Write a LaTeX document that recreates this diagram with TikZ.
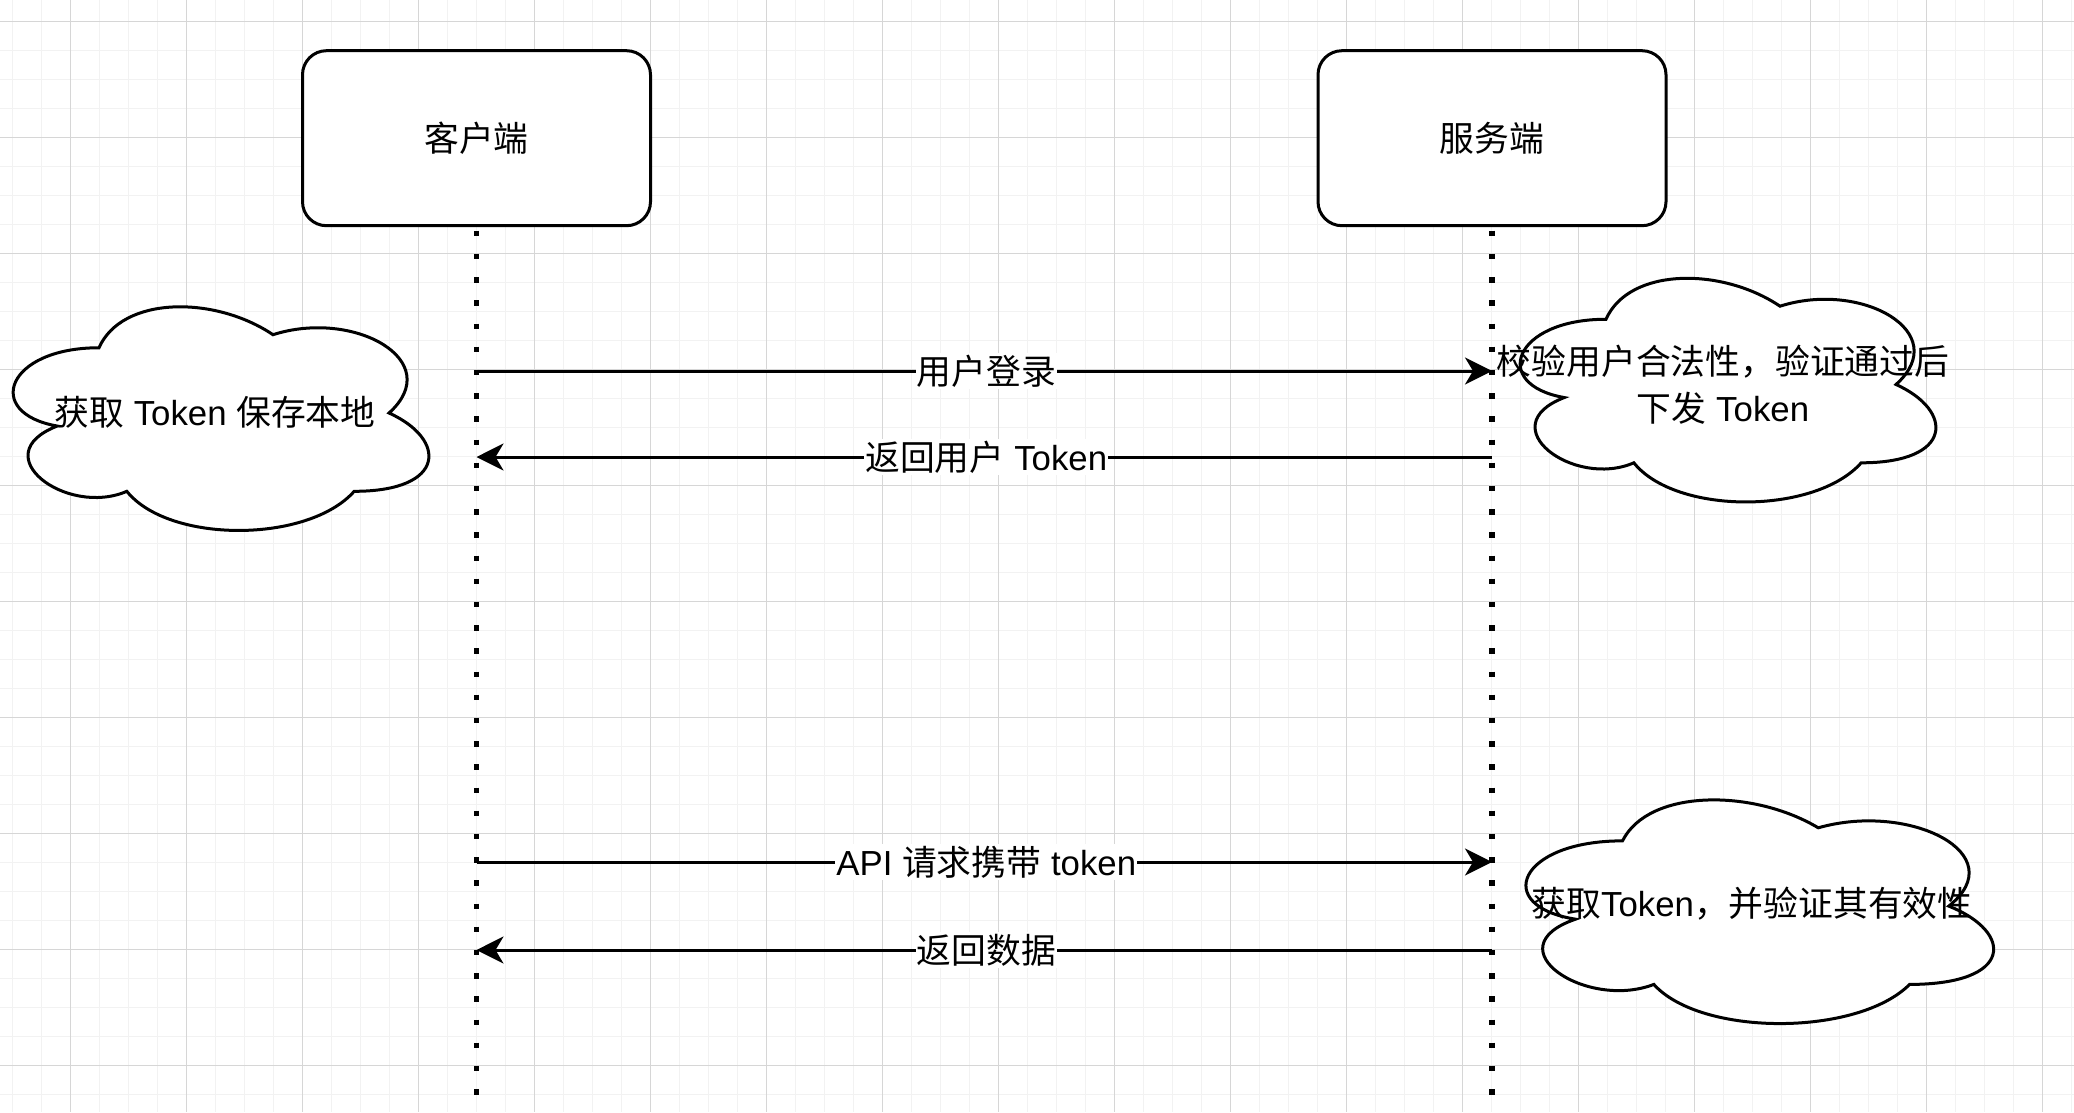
\documentclass[tikz,border=0pt]{standalone}
\usepackage{fontspec}
\setmainfont{Liberation Sans}
\newfontfamily\cjk{Noto Sans CJK SC}
\usetikzlibrary{arrows.meta}
\newcommand\dgfont{\fontsize{34.8}{46.7}\selectfont}
\newcommand\cloudat[4]{%
 \path[cloudbox] ({#1+0.25*#3},{#2+0.25*#4})
 .. controls ({#1+0.05*#3},{#2+0.25*#4}) and ({#1},{#2+0.5*#4}) .. ({#1+0.16*#3},{#2+0.55*#4})
 .. controls ({#1},{#2+0.66*#4}) and ({#1+0.18*#3},{#2+0.9*#4}) .. ({#1+0.31*#3},{#2+0.8*#4})
 .. controls ({#1+0.4*#3},{#2+#4}) and ({#1+0.7*#3},{#2+#4}) .. ({#1+0.8*#3},{#2+0.8*#4})
 .. controls ({#1+#3},{#2+0.8*#4}) and ({#1+#3},{#2+0.6*#4}) .. ({#1+0.875*#3},{#2+0.5*#4})
 .. controls ({#1+#3},{#2+0.3*#4}) and ({#1+0.8*#3},{#2+0.1*#4}) .. ({#1+0.625*#3},{#2+0.2*#4})
 .. controls ({#1+0.5*#3},{#2+0.05*#4}) and ({#1+0.3*#3},{#2+0.05*#4}) .. ({#1+0.25*#3},{#2+0.25*#4})
 -- cycle;}
\begin{document}
\begin{tikzpicture}[x=1pt,y=-1pt,
  minorgrid/.style={draw={rgb,255:red,242;green,242;blue,242}, line width=1pt},
  majorgrid/.style={draw={rgb,255:red,214;green,214;blue,214}, line width=1pt},
  actor/.style={draw=black, line width=3pt, rounded corners=24pt, fill=white,
    minimum width=348pt, minimum height=175pt, inner sep=0pt, font=\dgfont},
  lifeline/.style={draw=black, line width=5.5pt, dash pattern=on 5.5pt off 17.7pt},
  msg/.style={draw=black, line width=3pt, -{Stealth[length=27pt,width=27pt,inset=8pt]}},
  msglabel/.style={fill=white, inner xsep=1pt, inner ysep=2pt, font=\dgfont, xshift=2pt},
  cloudbox/.style={draw=black, line width=3pt, fill=white},
  cloudtext/.style={font=\dgfont, align=center, inner sep=0pt},
]
\useasboundingbox (0,0) rectangle (2074,1112);
\fill[white] (0,0) rectangle (2074,1112);
% grid
\foreach \x in {12.5,41.5,...,2074} \draw[minorgrid] (\x,0) -- (\x,1112);
\foreach \y in {21.7,50.7,...,1112} \draw[minorgrid] (0,\y) -- (2074,\y);
\foreach \x in {70.5,186.5,...,2074} \draw[majorgrid] (\x,0) -- (\x,1112);
\foreach \y in {21.7,137.7,...,1112} \draw[majorgrid] (0,\y) -- (2074,\y);

% actors
\node[actor] (cli) at (476.5,138.2) {{\cjk 客户端}};
\node[actor] (srv) at (1492,138.2) {{\cjk 服务端}};
\coordinate (cliend) at (476.5,1095);
\coordinate (srvend) at (1492,1095);
\draw[lifeline] (cli.south) ++(0,3.5) -- (cliend);
\draw[lifeline] (srv.south) ++(0,3.5) -- (srvend);

% clouds
\cloudat{-17}{282.5}{464}{261}
\cloudat{1490}{254}{464}{261}
\cloudat{1492}{775.6}{522}{261}

% messages
\coordinate (m1a) at (476.5,371);
\coordinate (m1b) at (1492,371);
\coordinate (m2a) at (1492,457);
\coordinate (m2b) at (476.5,457);
\coordinate (m3a) at (476.5,862);
\coordinate (m3b) at (1492,862);
\coordinate (m4a) at (1492,950);
\coordinate (m4b) at (476.5,950);
\draw[msg] (m1a) -- node[msglabel] (l1) {{\cjk 用户登录}} (m1b);
\draw[msg] (m2a) -- node[msglabel] (l2) {{\cjk 返回用户} Token} (m2b);
\draw[msg] (m3a) -- node[msglabel] (l3) {API {\cjk 请求携带} token} (m3b);
\draw[msg] (m4a) -- node[msglabel] (l4) {{\cjk 返回数据}} (m4b);

% cloud texts
\node[cloudtext] (t1) at (215,412) {{\cjk 获取} Token {\cjk 保存本地}};
\node[cloudtext] (t2) at (1723,385) {{\cjk 校验用户合法性，验证通过后}\\{\cjk 下发} Token};
\node[cloudtext] (t3) at (1752,904) {{\cjk 获取}Token{\cjk ，并验证其有效性}};
\end{tikzpicture}
\end{document}
